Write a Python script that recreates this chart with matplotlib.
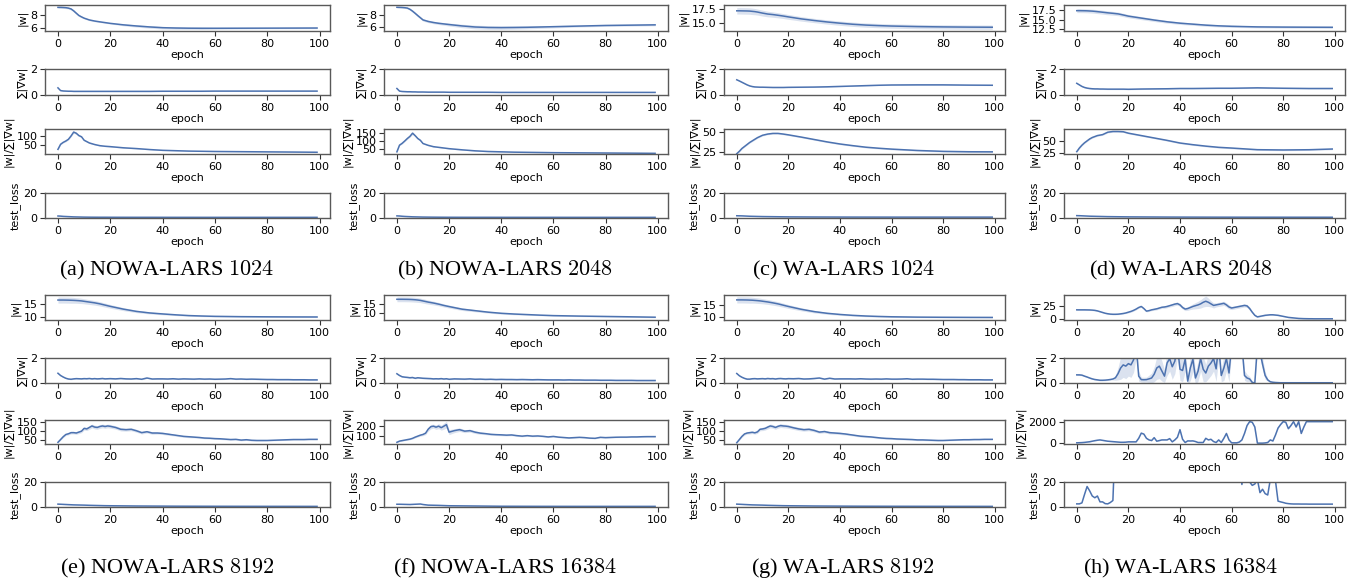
import matplotlib
matplotlib.use("Agg")
import matplotlib.pyplot as plt

# ---------------- epochs ----------------
XS = [0, 1, 2, 3, 4, 5, 6, 7, 8, 9, 10, 12, 14, 16, 18, 20, 25, 30, 35, 40, 45, 50, 55, 60, 70, 80, 90, 99]
XE = list(range(0, 21)) + list(range(22, 99, 2)) + [99]
XH = list(range(100))

# ---------------- (a) NOWA-LARS 1024 ----------------
a_w = [9.20, 9.20, 9.18, 9.15, 9.08, 8.95, 8.65, 8.28, 7.92, 7.70, 7.50, 7.22, 7.05, 6.92, 6.80, 6.68,
       6.45, 6.27, 6.12, 6.00, 5.95, 5.92, 5.91, 5.91, 5.92, 5.93, 5.94, 5.95]
a_w_sd = [0.15, 0.15, 0.15, 0.15, 0.15, 0.15, 0.18, 0.18, 0.16, 0.14, 0.12, 0.12, 0.11, 0.1, 0.1, 0.1,
          0.15, 0.18, 0.2, 0.2, 0.2, 0.18, 0.18, 0.15, 0.12, 0.1, 0.1, 0.1]
a_g = [0.55, 0.34, 0.31, 0.30, 0.29, 0.29, 0.28, 0.28, 0.28, 0.28, 0.28, 0.28, 0.28, 0.28, 0.28, 0.28,
       0.28, 0.28, 0.28, 0.29, 0.29, 0.29, 0.29, 0.30, 0.30, 0.30, 0.30, 0.30]
a_g_sd = 0.03
a_r = [29, 55, 65, 72, 81, 98, 118, 112, 100, 94, 76, 62, 54, 48, 45, 43,
       37, 33, 28, 24, 22, 20, 19, 18, 17, 16, 15, 14]
a_r_sd = [3, 3, 3, 4, 4, 5, 6, 6, 5, 4, 3, 3, 2, 2, 2, 2, 2, 2, 1.5, 1.5, 1, 1, 1, 1, 1, 1, 1, 1]
a_l = [1.6, 1.5, 1.3, 1.2, 1.1, 1.0, 0.9, 0.85, 0.8, 0.75, 0.7, 0.65, 0.62, 0.6, 0.6, 0.58,
       0.56, 0.55, 0.55, 0.54, 0.53, 0.53, 0.52, 0.52, 0.52, 0.52, 0.52, 0.52]
a_l_sd = 0.12

# ---------------- (b) NOWA-LARS 2048 ----------------
b_w = [9.25, 9.24, 9.22, 9.18, 9.12, 8.92, 8.62, 8.27, 7.90, 7.55, 7.20, 6.95, 6.78, 6.65, 6.55, 6.45,
       6.22, 6.05, 5.97, 5.95, 5.97, 6.00, 6.05, 6.10, 6.20, 6.30, 6.35, 6.40]
b_w_sd = [0.12, 0.12, 0.12, 0.12, 0.12, 0.15, 0.18, 0.2, 0.2, 0.2, 0.2, 0.2, 0.2, 0.2, 0.22, 0.24,
          0.28, 0.3, 0.3, 0.3, 0.28, 0.25, 0.22, 0.2, 0.15, 0.15, 0.15, 0.15]
b_g = [0.50, 0.30, 0.27, 0.26, 0.25, 0.25, 0.24, 0.24, 0.23, 0.23, 0.23, 0.22, 0.22, 0.22, 0.22, 0.21,
       0.21, 0.21, 0.21, 0.20, 0.20, 0.20, 0.20, 0.20, 0.20, 0.20, 0.20, 0.20]
b_g_sd = 0.02
b_r = [35, 75, 86, 100, 115, 128, 147, 132, 115, 104, 85, 74, 66, 62, 58, 54,
       47, 41, 37, 35, 33, 32, 31, 30, 29, 28, 27, 26]
b_r_sd = [3, 3, 4, 4, 5, 6, 8, 6, 5, 4, 3, 3, 3, 2, 2, 2, 2, 2, 2, 1.5, 1.5, 1.5, 1.5, 1.5, 1.5, 1.5, 1.5, 1.5]
b_l = [1.7, 1.6, 1.4, 1.25, 1.15, 1.05, 0.95, 0.9, 0.85, 0.8, 0.75, 0.7, 0.66, 0.63, 0.6, 0.58,
       0.56, 0.55, 0.55, 0.54, 0.54, 0.53, 0.53, 0.53, 0.52, 0.52, 0.52, 0.52]
b_l_sd = 0.12

# ---------------- (c) WA-LARS 1024 ----------------
c_w = [17.25, 17.25, 17.24, 17.23, 17.22, 17.2, 17.15, 17.1, 17.02, 16.92, 16.82, 16.65, 16.55, 16.42, 16.28, 16.12,
       15.75, 15.45, 15.18, 14.95, 14.75, 14.6, 14.5, 14.42, 14.32, 14.26, 14.22, 14.2]
c_w_sd = [0.6, 0.6, 0.6, 0.6, 0.6, 0.6, 0.6, 0.58, 0.56, 0.55, 0.55, 0.52, 0.5, 0.48, 0.46, 0.45,
          0.42, 0.4, 0.4, 0.4, 0.4, 0.4, 0.4, 0.4, 0.4, 0.4, 0.4, 0.4]
c_g = [1.17, 1.08, 0.98, 0.88, 0.78, 0.70, 0.65, 0.62, 0.61, 0.60, 0.60, 0.59, 0.58, 0.58, 0.58, 0.59,
       0.60, 0.61, 0.63, 0.66, 0.69, 0.72, 0.75, 0.77, 0.78, 0.78, 0.76, 0.75]
c_g_sd = 0.03
c_r = [22.5, 25.5, 29, 31.5, 34, 36.5, 38.5, 40.5, 42.5, 44, 45.5, 47, 47.8, 47.8, 47, 46,
       43.2, 40.2, 37.2, 34.6, 32.5, 30.6, 29.3, 28.2, 26.5, 25.4, 24.9, 24.8]
c_r_sd = 0.9
c_l = [1.8, 1.75, 1.7, 1.6, 1.5, 1.4, 1.35, 1.3, 1.25, 1.2, 1.15, 1.1, 1.05, 1.0, 0.95, 0.9,
       0.85, 0.8, 0.78, 0.75, 0.73, 0.72, 0.71, 0.7, 0.7, 0.7, 0.7, 0.7]
c_l_sd = 0.12

# ---------------- (d) WA-LARS 2048 ----------------
d_w = [17.3, 17.3, 17.29, 17.28, 17.26, 17.22, 17.18, 17.12, 17.05, 16.98, 16.9, 16.75, 16.62, 16.48, 16.2, 15.9,
       15.4, 14.9, 14.45, 14.1, 13.85, 13.6, 13.42, 13.3, 13.15, 13.1, 13.07, 13.05]
d_w_sd = [0.5, 0.5, 0.5, 0.5, 0.5, 0.5, 0.5, 0.5, 0.5, 0.5, 0.5, 0.5, 0.48, 0.46, 0.44, 0.42,
          0.4, 0.38, 0.35, 0.32, 0.3, 0.3, 0.28, 0.28, 0.25, 0.25, 0.25, 0.25]
d_g = [0.9, 0.78, 0.66, 0.58, 0.53, 0.5, 0.48, 0.47, 0.47, 0.46, 0.46, 0.45, 0.45, 0.45, 0.45, 0.44,
       0.46, 0.47, 0.48, 0.5, 0.5, 0.51, 0.52, 0.52, 0.55, 0.52, 0.5, 0.5]
d_g_sd = 0.04
d_r = [28.5, 36, 42, 47, 51, 55, 58, 60, 62, 63, 64, 69, 70.5, 70.5, 70, 67,
       62, 57, 52, 46.5, 43, 40, 37.5, 36, 32.6, 32, 32.5, 34]
d_r_sd = 1.5
d_l = [1.9, 1.85, 1.75, 1.65, 1.55, 1.45, 1.4, 1.35, 1.3, 1.25, 1.2, 1.1, 1.05, 1.0, 0.95, 0.9,
       0.85, 0.8, 0.75, 0.72, 0.7, 0.68, 0.66, 0.65, 0.63, 0.62, 0.61, 0.6]
d_l_sd = 0.12

# ---------------- (e) NOWA-LARS 8192 ----------------
e_w = [16.7, 16.7, 16.7, 16.68, 16.66, 16.62, 16.58, 16.52, 16.45, 16.35, 16.2, 15.9, 15.6, 15.2, 14.7, 14.2,
       13.1, 12.2, 11.6, 11.2, 10.85, 10.55, 10.38, 10.25, 10.12, 10.06, 10.02, 10.0]
e_w_sd = [1.2, 1.2, 1.2, 1.2, 1.2, 1.2, 1.15, 1.1, 1.1, 1.05, 1.0, 0.95, 0.9, 0.85, 0.8, 0.75,
          0.6, 0.5, 0.4, 0.35, 0.3, 0.28, 0.25, 0.25, 0.2, 0.2, 0.2, 0.2]
e_g = [0.78, 0.6, 0.48, 0.38, 0.32, 0.3, 0.33, 0.35, 0.34, 0.33, 0.35, 0.34, 0.36, 0.33, 0.35, 0.33, 0.34, 0.36, 0.33, 0.34, 0.35,
       0.33, 0.36, 0.33, 0.32, 0.35, 0.30, 0.40, 0.32, 0.33, 0.33,
       0.32, 0.34, 0.31, 0.33, 0.32, 0.31, 0.33, 0.31, 0.32, 0.30,
       0.31, 0.32, 0.35, 0.31, 0.32, 0.30, 0.31, 0.30, 0.29, 0.28,
       0.28, 0.27, 0.27, 0.27, 0.26, 0.26, 0.26, 0.25, 0.25, 0.25]
e_g_sd = 0.04
e_r = [40, 55, 70, 82, 86, 92, 92, 90, 95, 100, 115, 112, 120, 128, 122, 120, 125, 128, 125, 128, 126,
       120, 110, 108, 110, 102, 92, 97, 90, 90, 88,
       84, 80, 76, 72, 70, 68, 66, 63, 62, 60,
       59, 57, 55, 56, 52, 54, 51, 50, 50, 50,
       51, 52, 53, 54, 55, 55, 55, 56, 56, 56]
e_r_sd = [3, 4, 5, 6, 6, 7, 7, 7, 8, 8, 9, 9, 10, 10, 10, 10, 10, 10, 10, 10, 10,
          9, 9, 8, 8, 8, 7, 7, 7, 6, 6,
          6, 5, 5, 5, 5, 4, 4, 4, 4, 4,
          4, 4, 4, 4, 4, 4, 4, 4, 4, 3,
          3, 3, 3, 3, 3, 3, 3, 3, 3, 3]
e_l = [2.3, 2.2, 2.1, 2.0, 1.9, 1.8, 1.7, 1.65, 1.6, 1.55, 1.5, 1.35, 1.25, 1.15, 1.05, 1.0,
       0.9, 0.8, 0.75, 0.7, 0.65, 0.62, 0.6, 0.58, 0.55, 0.53, 0.52, 0.5]
e_l_sd = 0.15

# ---------------- (f) NOWA-LARS 16384 ----------------
f_w = [17.5, 17.5, 17.5, 17.48, 17.46, 17.42, 17.35, 17.25, 17.1, 16.9, 16.6, 16.0, 15.5, 14.9, 14.2, 13.6,
       12.2, 11.4, 10.6, 10.0, 9.6, 9.3, 9.0, 8.75, 8.5, 8.3, 8.1, 7.9]
f_w_sd = [1.3, 1.3, 1.3, 1.3, 1.3, 1.3, 1.3, 1.3, 1.25, 1.2, 1.2, 1.1, 1.0, 0.9, 0.85, 0.8,
          0.7, 0.6, 0.5, 0.45, 0.4, 0.35, 0.3, 0.3, 0.3, 0.3, 0.3, 0.3]
f_g = [0.74, 0.6, 0.5, 0.47, 0.45, 0.42, 0.44, 0.38, 0.42, 0.4, 0.38, 0.37, 0.36, 0.35, 0.33, 0.34, 0.33, 0.35, 0.32, 0.34, 0.3,
       0.33, 0.32, 0.31, 0.33, 0.3, 0.31, 0.29, 0.3, 0.28, 0.29,
       0.28, 0.28, 0.27, 0.28, 0.27, 0.26, 0.27, 0.26, 0.25, 0.25,
       0.25, 0.24, 0.25, 0.24, 0.24, 0.23, 0.23, 0.23, 0.22, 0.22,
       0.22, 0.21, 0.21, 0.21, 0.21, 0.2, 0.2, 0.2, 0.2, 0.2]
f_g_sd = 0.05
f_r = [38, 50, 55, 60, 65, 70, 78, 90, 100, 110, 117, 130, 170, 195, 200, 190, 200, 185, 200, 215, 140,
       155, 165, 150, 155, 140, 130, 125, 118, 115, 113,
       110, 112, 105, 100, 105, 100, 102, 98, 92, 97,
       90, 86, 82, 85, 88, 85, 80, 78, 88, 85,
       87, 89, 90, 90, 92, 92, 94, 95, 95, 95]
f_r_sd = [3, 4, 5, 5, 6, 6, 7, 8, 9, 10, 12, 15, 20, 22, 20, 22, 25, 25, 30, 35, 25,
          20, 18, 15, 15, 14, 12, 10, 10, 9, 9,
          8, 8, 8, 7, 7, 7, 7, 6, 6, 6,
          6, 5, 5, 5, 5, 5, 5, 5, 5, 5,
          5, 5, 5, 5, 5, 5, 5, 5, 5, 5]
f_l = [2.2, 2.2, 2.15, 2.1, 2.05, 2.0, 2.1, 2.2, 2.3, 2.4, 2.0, 1.5, 1.4, 1.3, 1.15, 1.0,
       0.9, 0.8, 0.7, 0.6, 0.58, 0.55, 0.53, 0.52, 0.5, 0.5, 0.5, 0.5]
f_l_sd = 0.15

# ---------------- (g) WA-LARS 8192 ----------------
g_w = [16.8, 16.8, 16.8, 16.78, 16.76, 16.72, 16.68, 16.6, 16.52, 16.42, 16.28, 16.0, 15.65, 15.25, 14.75, 14.25,
       13.15, 12.25, 11.6, 11.15, 10.8, 10.55, 10.38, 10.25, 10.12, 10.06, 10.02, 10.0]
g_w_sd = [1.2, 1.2, 1.2, 1.2, 1.2, 1.2, 1.15, 1.1, 1.1, 1.05, 1.0, 0.95, 0.9, 0.85, 0.8, 0.75,
          0.6, 0.5, 0.4, 0.35, 0.3, 0.28, 0.25, 0.25, 0.2, 0.2, 0.2, 0.2]
g_g = [0.76, 0.58, 0.46, 0.37, 0.31, 0.31, 0.34, 0.35, 0.33, 0.34, 0.35, 0.33, 0.36, 0.34, 0.35, 0.32, 0.35, 0.36, 0.34, 0.33, 0.35,
       0.34, 0.36, 0.32, 0.33, 0.36, 0.40, 0.31, 0.38, 0.32, 0.33,
       0.33, 0.33, 0.32, 0.34, 0.32, 0.31, 0.32, 0.31, 0.33, 0.31,
       0.31, 0.32, 0.34, 0.30, 0.31, 0.31, 0.30, 0.30, 0.29, 0.28,
       0.28, 0.28, 0.27, 0.27, 0.26, 0.26, 0.26, 0.25, 0.25, 0.25]
g_g_sd = 0.04
g_r = [38, 55, 72, 85, 90, 92, 94, 91, 96, 110, 112, 115, 122, 128, 125, 120, 126, 130, 128, 127, 125,
       118, 112, 108, 110, 104, 95, 98, 92, 90, 88,
       85, 81, 77, 73, 71, 69, 66, 63, 61, 60,
       58, 57, 56, 55, 53, 53, 52, 51, 50, 50,
       51, 52, 53, 54, 54, 55, 55, 56, 56, 56]
g_r_sd = [3, 4, 5, 6, 6, 7, 7, 7, 8, 8, 9, 9, 10, 10, 10, 10, 10, 10, 10, 10, 10,
          9, 9, 8, 8, 8, 7, 7, 7, 6, 6,
          6, 5, 5, 5, 5, 4, 4, 4, 4, 4,
          4, 4, 4, 4, 4, 4, 4, 4, 4, 3,
          3, 3, 3, 3, 3, 3, 3, 3, 3, 3]
g_l = [2.3, 2.2, 2.1, 2.0, 1.9, 1.8, 1.7, 1.65, 1.6, 1.55, 1.5, 1.35, 1.25, 1.15, 1.05, 1.0,
       0.9, 0.8, 0.75, 0.7, 0.65, 0.62, 0.6, 0.58, 0.55, 0.53, 0.52, 0.5]
g_l_sd = 0.15

# ---------------- (h) WA-LARS 16384 ----------------
h_w = [17.5, 17.5, 17.5, 17.5, 17.4, 17.3, 17, 16.5, 15.5, 14,
       12.5, 11, 10, 9.3, 9, 9, 9.2, 9.8, 10.5, 11.5,
       13, 14.5, 16.5, 19, 22, 24, 20, 15, 16, 17.5,
       18.5, 19.5, 21, 22.5, 23, 24, 25.5, 27, 28.5, 29.5,
       27, 22, 19, 20, 22, 24, 25.5, 27, 29, 32,
       34, 32, 29, 26, 27, 28, 29, 30, 27, 23,
       21, 22, 23, 24, 25, 26, 25, 20, 13, 7,
       4, 5, 6, 7, 7.5, 8, 8, 7.5, 7, 6,
       5, 4, 3, 2.5, 2, 1.5, 1, 0.8, 0.6, 0.5,
       0.4, 0.4, 0.3, 0.3, 0.3, 0.3, 0.3, 0.3, 0.3, 0.3]
h_w_sd = [1, 1, 1, 1, 1, 1, 1, 1, 1, 1,
          1, 1, 1, 1, 1, 1, 1, 1, 1, 1,
          1.5, 1.5, 1.5, 1.5, 1.5, 1.5, 1.5, 1.5, 1.5, 1.5,
          2, 2, 2, 2, 2.5, 2.5, 2.5, 3, 3, 3,
          3, 3, 3, 3.5, 4, 5, 6, 7, 8, 9,
          10, 8, 6, 5, 4, 4, 4, 4, 4, 4,
          3, 3, 3, 3, 3, 3, 3, 3, 2, 2,
          1, 1, 1, 1, 1, 1, 1, 1, 1, 1,
          0.5, 0.5, 0.5, 0.5, 0.5, 0.5, 0.5, 0.5, 0.5, 0.5,
          0.3, 0.3, 0.3, 0.3, 0.3, 0.3, 0.3, 0.3, 0.3, 0.3]
h_g = [0.65, 0.65, 0.63, 0.55, 0.48, 0.40, 0.33, 0.28, 0.25, 0.22,
       0.22, 0.23, 0.25, 0.28, 0.32, 0.42, 0.75, 1.20, 1.45, 1.35,
       1.55, 1.45, 1.85, 3.00, 0.55, 0.27, 0.26, 0.27, 0.33, 0.40,
       0.70, 1.20, 1.35, 0.95, 0.55, 1.60, 1.95, 1.30, 1.75, 3.00,
       1.10, 1.00, 1.90, 0.15, 1.20, 1.90, 0.40, 0.95, 1.95, 1.10,
       0.80, 1.35, 1.60, 1.95, 1.13, 3.00, 0.60, 1.20, 1.95, 0.80,
       3.00, 3.00, 3.00, 3.00, 3.00, 0.60, 0.40, 0.32, 0.05, 0.00,
       3.00, 2.50, 1.50, 0.60, 0.25, 0.10, 0.06, 0.04, 0.03, 0.02,
       0.02, 0.02, 0.02, 0.02, 0.02, 0.02, 0.02, 0.02, 0.02, 0.02,
       0.02, 0.02, 0.02, 0.02, 0.02, 0.02, 0.02, 0.02, 0.02, 0.02]
h_g_sd = [0.05, 0.05, 0.05, 0.05, 0.05, 0.05, 0.05, 0.05, 0.05, 0.05,
          0.05, 0.05, 0.05, 0.05, 0.08, 0.2, 0.5, 0.9, 1.0, 1.0,
          1.0, 1.0, 1.0, 1.0, 0.4, 0.2, 0.2, 0.2, 0.3, 0.4,
          0.6, 0.9, 1.0, 0.8, 0.5, 1.0, 1.0, 1.0, 1.0, 1.0,
          0.9, 0.9, 1.0, 0.3, 1.0, 1.0, 0.5, 0.8, 1.0, 1.0,
          0.7, 1.0, 1.0, 1.0, 1.0, 1.0, 0.5, 1.0, 1.0, 0.7,
          0.5, 0.5, 0.5, 0.5, 0.5, 0.4, 0.3, 0.2, 0.1, 0.1,
          0.5, 0.5, 0.5, 0.3, 0.1, 0.05, 0.03, 0.02, 0.02, 0.02,
          0.01, 0.01, 0.01, 0.01, 0.01, 0.01, 0.01, 0.01, 0.01, 0.01,
          0.01, 0.01, 0.01, 0.01, 0.01, 0.01, 0.01, 0.01, 0.01, 0.01]
h_r = [30, 40, 50, 70, 100, 130, 180, 230, 270, 300,
       260, 220, 180, 160, 140, 120, 100, 80, 80, 90,
       120, 120, 120, 120, 450, 930, 840, 450, 300, 240,
       510, 180, 240, 300, 300, 300, 420, 120, 300, 540,
       1250, 360, 60, 210, 200, 210, 150, 60, 60, 60,
       450, 300, 360, 150, 60, 300, 60, 450, 900, 300,
       30, 30, 30, 100, 300, 900, 1640, 2000, 1940, 1500,
       0, 0, 0, 20, 60, 300, 200, 750, 1400, 1730,
       2000, 1940, 1340, 1640, 2000, 1500, 2000, 900, 1500, 2000,
       2000, 2000, 2000, 2000, 2000, 2000, 2000, 2000, 2000, 2000]
h_r_sd = 25
h_l = [2.5, 2.5, 3.3, 10, 16.4, 12.9, 8.8, 7.4, 8.8, 4.1,
       4.1, 2.7, 2.5, 3.6, 5.2, 60, 80, 90, 70, 60,
       70, 80, 90, 100, 90, 80, 70, 60, 70, 80,
       90, 80, 70, 60, 70, 80, 90, 100, 90, 80,
       70, 60, 70, 80, 90, 80, 70, 60, 70, 80,
       90, 80, 70, 60, 50, 60, 70, 60, 50, 40,
       45, 50, 40, 35, 18, 35, 30, 20, 17.3, 18.4,
       22, 11.5, 14.2, 10.7, 9.6, 22, 40, 21, 4.7, 4.1,
       3.6, 3.0, 2.7, 2.5, 2.4, 2.4, 2.4, 2.35, 2.35, 2.35,
       2.3, 2.3, 2.3, 2.3, 2.3, 2.3, 2.3, 2.3, 2.3, 2.3]
h_l_sd = None

# ---------------- labels / ticks ----------------
YLABELS = ["|w|", "\u2211|\u2207w|", "|w|/\u2211|\u2207w|", "test_loss"]
XTICKS = [0, 20, 40, 60, 80, 100]
CAPTIONS = ["(a) NOWA-LARS $1024$", "(b) NOWA-LARS $2048$", "(c) WA-LARS $1024$", "(d) WA-LARS $2048$",
            "(e) NOWA-LARS $8192$", "(f) NOWA-LARS $16384$", "(g) WA-LARS $8192$", "(h) WA-LARS $16384$"]

W, H = 1369, 585
COLOR = "#4c72b0"
FS = 8

plt.rcParams["mathtext.fontset"] = "cm"
fig = plt.figure(figsize=(W / 100, H / 100), dpi=100)

COLS = [(45, 330), (384, 668), (724, 1005), (1064, 1345)]
ROWS_TOP = [(5, 31), (69, 95), (129, 154), (193, 218)]
ROWS_BOT = [(295, 320), (358, 383), (420, 444), (482, 507)]
CAP_X = [167, 505, 843, 1181]
CAP_Y = [270, 568]


def series_plot(ax, x, y, sd):
    n = min(len(x), len(y))
    if len(x) != len(y):
        print("length mismatch", len(x), len(y))
    x, y = x[:n], y[:n]
    if sd is not None:
        sdv = sd if isinstance(sd, list) else [sd] * n
        if len(sdv) != n:
            print("sd length mismatch", len(sdv), n)
        m = min(n, len(sdv))
        lo = [y[i] - sdv[i] for i in range(m)]
        hi = [y[i] + sdv[i] for i in range(m)]
        ax.fill_between(x[:m], lo, hi, color=COLOR, alpha=0.2, lw=0)
    ax.plot(x, y, color=COLOR, lw=1.1)


def style(ax):
    for s in ax.spines.values():
        s.set_color("0.35")
        s.set_linewidth(1.0)
    ax.tick_params(direction="out", length=3.5, width=0.8, color="0.2", labelsize=FS, pad=2)


panels = [
    (0, 0, [(XS, a_w, a_w_sd), (XS, a_g, a_g_sd), (XS, a_r, a_r_sd), (XS, a_l, a_l_sd)],
     [[6, 8], [0, 2], [50, 100], [0, 20]], [(5.48, 9.57), (0, 2), (5, 134), (0, 20)]),
    (0, 1, [(XS, b_w, b_w_sd), (XS, b_g, b_g_sd), (XS, b_r, b_r_sd), (XS, b_l, b_l_sd)],
     [[6, 8], [0, 2], [50, 100, 150], [0, 20]], [(5.4, 9.62), (0, 2), (22, 172), (0, 20)]),
    (0, 2, [(XS, c_w, c_w_sd), (XS, c_g, c_g_sd), (XS, c_r, c_r_sd), (XS, c_l, c_l_sd)],
     [[15.0, 17.5], [0, 2], [25, 50], [0, 20]], [(13.5, 18.33), (0, 2), (22.1, 53.3), (0, 20)]),
    (0, 3, [(XS, d_w, d_w_sd), (XS, d_g, d_g_sd), (XS, d_r, d_r_sd), (XS, d_l, d_l_sd)],
     [[12.5, 15.0, 17.5], [0, 2], [25, 50], [0, 20]], [(12.1, 18.75), (0, 2), (23.6, 75.7), (0, 20)]),
    (1, 0, [(XS, e_w, e_w_sd), (XE, e_g, e_g_sd), (XE, e_r, e_r_sd), (XS, e_l, e_l_sd)],
     [[10, 15], [0, 2], [50, 100, 150], [0, 20]], [(8.8, 18.7), (0, 2), (31, 160), (0, 20)]),
    (1, 1, [(XS, f_w, f_w_sd), (XE, f_g, f_g_sd), (XE, f_r, f_r_sd), (XS, f_l, f_l_sd)],
     [[10, 15], [0, 2], [100, 200], [0, 20]], [(6.4, 19.8), (0, 2), (21, 262), (0, 20)]),
    (1, 2, [(XS, g_w, g_w_sd), (XE, g_g, g_g_sd), (XE, g_r, g_r_sd), (XS, g_l, g_l_sd)],
     [[10, 15], [0, 2], [50, 100, 150], [0, 20]], [(9.0, 18.7), (0, 2), (31, 160), (0, 20)]),
    (1, 3, [(XH, h_w, h_w_sd), (XH, h_g, h_g_sd), (XH, h_r, h_r_sd), (XH, h_l, h_l_sd)],
     [[0, 25], [0, 2], [0, 2000], [0, 20]], [(-2, 46), (0, 2), (-80, 2150), (0, 20)]),
]

for idx, (row, col, series, yticks, ylims) in enumerate(panels):
    x0, x1 = COLS[col]
    rows = ROWS_TOP if row == 0 else ROWS_BOT
    for k, ((xs, ys, sd), yt, yl) in enumerate(zip(series, yticks, ylims)):
        y0, y1 = rows[k]
        ax = fig.add_axes([x0 / W, 1 - y1 / H, (x1 - x0) / W, (y1 - y0) / H])
        series_plot(ax, xs, ys, sd)
        ax.set_xlim(-4.95, 103.95)
        ax.set_ylim(*yl)
        ax.set_xticks(XTICKS)
        ax.set_yticks(yt)
        ax.set_xlabel("epoch", fontsize=FS, labelpad=1)
        ax.set_ylabel(YLABELS[k], fontsize=FS, labelpad=2)
        style(ax)
    fig.text(CAP_X[col] / W, 1 - CAP_Y[row] / H, CAPTIONS[idx], ha="center", va="center",
             fontsize=16, family="Liberation Serif")

fig.savefig("out.png", dpi=100)
